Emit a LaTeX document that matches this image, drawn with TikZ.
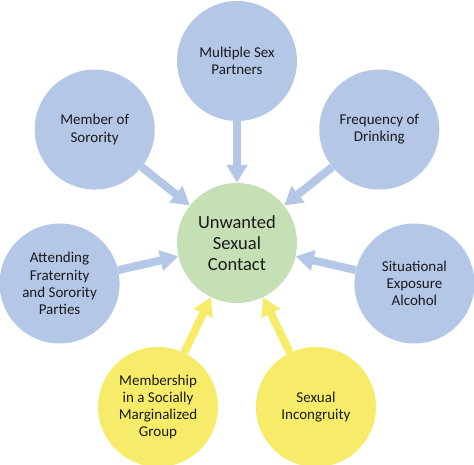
\documentclass[tikz,border=0pt]{standalone}
\usepackage{fontspec}
\setmainfont{Carlito}
\usepackage{xcolor}
\usepackage{tikz}
\usetikzlibrary{arrows.meta}
\definecolor{skyblue}{HTML}{B4C7E7}
\definecolor{sage}{HTML}{C5E0B4}
\definecolor{lemon}{HTML}{F7EC6A}
\definecolor{ink}{HTML}{1A1A1A}

\begin{document}
\begin{tikzpicture}[
  x=1pt, y=1pt,
  every node/.style={align=center, text=ink},
  factor/.style={circle, fill=skyblue, minimum size=120pt, inner sep=0pt,
                 font=\fontsize{15}{17.2}\selectfont},
  minority/.style={factor, fill=lemon},
  outcome/.style={circle, fill=sage, minimum size=120pt, inner sep=0pt,
                  font=\fontsize{18.5}{21}\selectfont},
  arr/.style={-{Triangle[width=20pt, length=18pt]}, line width=8pt, draw=skyblue},
  yarr/.style={arr, draw=lemon}
]
\useasboundingbox (-237,-222) rectangle (237,243);
% centre
\node[outcome] (usc) at (0,0) {Unwanted\\Sexual\\Contact};
% ring of factors, 360/7 apart
\node[factor] (msp) at (90:182) {Multiple Sex\\Partners};
\node[factor] (frq) at (38.57:182) {Frequency of\\Drinking};
\node[factor] (mem) at (141.43:182) {Member of\\Sorority};
\node[factor] (att) at (192.86:182) {Attending\\Fraternity\\and Sorority\\Parties};
\node[factor] (sit) at (347.14:182) {Situational\\Exposure\\Alcohol};
\node[minority] (mar) at (244.29:182) {Membership\\in a Socially\\Marginalized\\Group};
\node[minority] (inc) at (295.71:182) {Sexual\\Incongruity};
% blue arrows
\draw[arr] (msp) -- (usc);
\draw[arr] (frq) -- (usc);
\draw[arr] (mem) -- (usc);
\draw[arr] (att) -- (usc);
\draw[arr] (sit) -- (usc);
% yellow arrows
\draw[yarr] (mar) -- (usc);
\draw[yarr] (inc) -- (usc);
\end{tikzpicture}
\end{document}
